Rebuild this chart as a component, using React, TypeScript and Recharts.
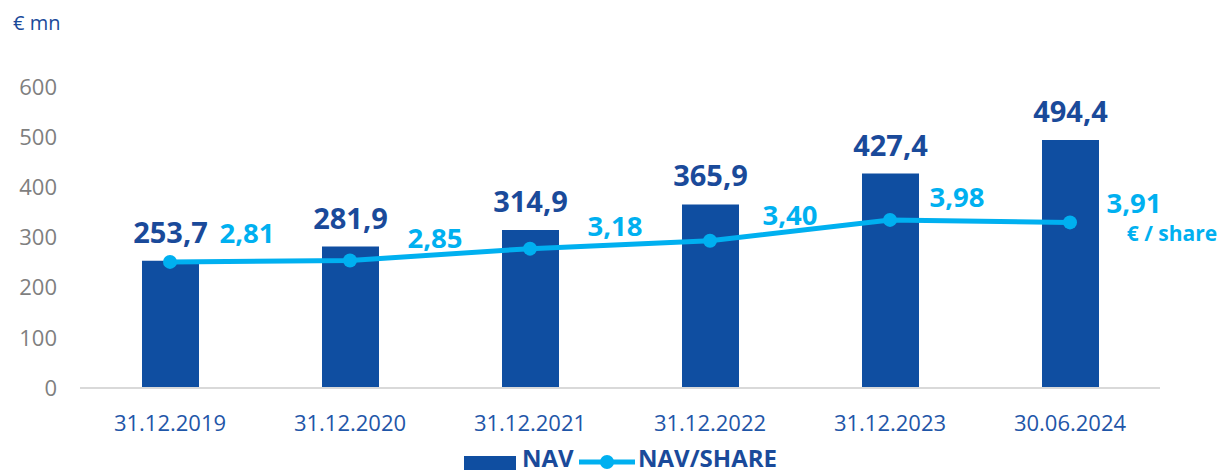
import React from "react";
import { ComposedChart, Bar, Line, XAxis, YAxis, LabelList } from "recharts";

const categories = ["31.12.2019", "31.12.2020", "31.12.2021", "31.12.2022", "31.12.2023", "30.06.2024"];
const navValues = [253.7, 281.9, 314.9, 365.9, 427.4, 494.4];
const navPerShare = [2.81, 2.85, 3.18, 3.4, 3.98, 3.91];
const leftTicks = [0, 100, 200, 300, 400, 500, 600];

const data = categories.map((c, i) => ({ name: c, nav: navValues[i], share: navPerShare[i] }));

const FONT = "'Open Sans', 'Noto Sans', sans-serif";
const DARK = "#0f4ea1";
const DARK_TEXT = "#1a4a9a";
const LIGHT = "#00b0f0";
const AXIS_TEXT = "#1f56a8";
const GRAY = "#7f7f7f";

// label placement offsets (style, not data): centre of text relative to point
const shareLabelOffsets: [number, number][] = [
  [77, -29],
  [85, -22],
  [85, -22],
  [80, -26],
  [67, -23],
  [64, -19],
];

const ShareLabel = (props: any) => {
  const { x, y, value, index } = props;
  const [dx, dy] = shareLabelOffsets[index] || [70, -22];
  const fs = 27.5;
  return (
    <text
      x={x + dx}
      y={y + dy + fs * 0.357}
      textAnchor="middle"
      fill={LIGHT}
      fontSize={fs}
      fontWeight={700}
      fontFamily={FONT}
    >
      {Number(value).toFixed(2).replace(".", ",")}
    </text>
  );
};

export default function App() {
  return (
    <div style={{ position: "absolute", left: 0, top: 0, width: 1222, height: 475, background: "#fff" }}>
      <ComposedChart
        width={1222}
        height={475}
        data={data}
        margin={{ top: 87, right: 62, left: 10, bottom: 47 }}
        barCategoryGap={0}
      >
        <XAxis
          dataKey="name"
          height={40}
          tickSize={0}
          tickMargin={27}
          axisLine={{ stroke: "#d9d9d9", strokeWidth: 2 }}
          tick={{ fill: AXIS_TEXT, fontSize: 22, fontFamily: FONT }}
          interval={0}
        />
        <YAxis
          yAxisId="left"
          width={70}
          domain={[0, 600]}
          ticks={leftTicks}
          tickSize={0}
          tickMargin={23}
          axisLine={false}
          tick={{ fill: GRAY, fontSize: 22, fontFamily: FONT }}
        />
        <YAxis yAxisId="right" orientation="right" hide domain={[-0.7, 7.68]} />
        <Bar yAxisId="left" dataKey="nav" fill={DARK} barSize={57} isAnimationActive={false}>
          <LabelList
            dataKey="nav"
            position="top"
            offset={18}
            formatter={(v: any) => Number(v).toFixed(1).replace(".", ",")}
            style={{ fill: DARK_TEXT, fontSize: 29, fontWeight: 700, fontFamily: FONT }}
          />
        </Bar>
        <Line
          yAxisId="right"
          dataKey="share"
          stroke={LIGHT}
          strokeWidth={5}
          dot={{ r: 7, fill: LIGHT, stroke: "none" }}
          activeDot={false}
          isAnimationActive={false}
        >
          <LabelList dataKey="share" content={ShareLabel} />
        </Line>
      </ComposedChart>
      <svg
        width={1222}
        height={475}
        style={{ position: "absolute", left: 0, top: 0, pointerEvents: "none" }}
      >
        <text x={13} y={30} fill={DARK_TEXT} fontSize={20} fontFamily={FONT}>
          € mn
        </text>
        <text x={1172} y={241} textAnchor="middle" fill={LIGHT} fontSize={21} fontWeight={700} fontFamily={FONT}>
          € / share
        </text>
        <rect x={464} y={456} width={52} height={14} fill={DARK} />
        <text x={522} y={467} fill={DARK_TEXT} fontSize={24} fontWeight={700} fontFamily={FONT}>
          NAV
        </text>
        <line x1={579} y1={462} x2={635} y2={462} stroke={LIGHT} strokeWidth={5} />
        <circle cx={607} cy={462} r={7} fill={LIGHT} />
        <text x={638} y={467} fill={DARK_TEXT} fontSize={24} fontWeight={700} fontFamily={FONT}>
          NAV/SHARE
        </text>
      </svg>
    </div>
  );
}
